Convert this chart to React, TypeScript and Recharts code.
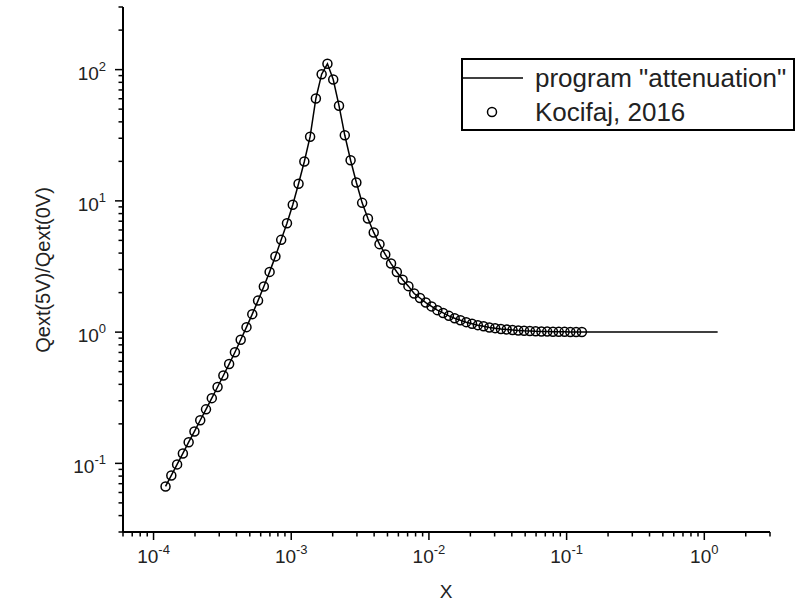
import { ComposedChart, Line, Scatter, XAxis, YAxis } from "recharts";

// Kocifaj, 2016 points
const kocX = [
  1.222e-4, 1.346e-4, 1.483e-4, 1.633e-4, 1.799e-4, 1.982e-4, 2.183e-4, 2.404e-4, 2.649e-4, 2.917e-4,
  3.214e-4, 3.54e-4, 3.899e-4, 4.295e-4, 4.732e-4, 5.212e-4, 5.741e-4, 6.324e-4, 6.966e-4, 7.674e-4,
  8.453e-4, 9.311e-4, 1.026e-3, 1.13e-3, 1.245e-3, 1.371e-3, 1.51e-3, 1.663e-3, 1.832e-3, 2.018e-3,
  2.223e-3, 2.449e-3, 2.698e-3, 2.972e-3, 3.273e-3, 3.606e-3, 3.972e-3, 4.375e-3, 4.819e-3, 5.309e-3,
  5.848e-3, 6.442e-3, 7.096e-3, 7.816e-3, 8.61e-3, 9.484e-3, 1.045e-2, 1.151e-2, 1.268e-2, 1.396e-2,
  1.538e-2, 1.694e-2, 1.866e-2, 2.056e-2, 2.265e-2, 2.495e-2, 2.748e-2, 3.027e-2, 3.334e-2, 3.673e-2,
  4.046e-2, 4.457e-2, 4.909e-2, 5.408e-2, 5.957e-2, 6.561e-2, 7.228e-2, 7.962e-2, 8.77e-2, 9.661e-2,
  0.1064, 0.1172, 0.1291,
];
const kocY = [
  0.0667, 0.0809, 0.0982, 0.119, 0.145, 0.175, 0.213, 0.258, 0.314, 0.382,
  0.467, 0.571, 0.703, 0.875, 1.091, 1.371, 1.738, 2.223, 2.877, 3.776,
  5.047, 6.761, 9.333, 13.49, 19.95, 30.83, 60.26, 92.3, 110.7, 84.1,
  53.1, 31.6, 20.4, 13.8, 9.66, 7.33, 5.75, 4.68, 3.91, 3.33,
  2.87, 2.51, 2.24, 1.97, 1.82, 1.68, 1.57, 1.47, 1.4, 1.33,
  1.276, 1.23, 1.191, 1.159, 1.13, 1.107, 1.086, 1.072, 1.057, 1.047,
  1.038, 1.03, 1.023, 1.019, 1.014, 1.012, 1.009, 1.007, 1.005, 1.005,
  1.002, 1.002, 1.002,
];

// program "attenuation" continues past the last measured point
const tailX = [0.15, 0.2, 0.3, 0.45, 0.7, 1.0, 1.25];
const tailY = [1.001, 1.001, 1.0, 1.0, 1.0, 1.0, 1.0];

const MULTS = [1, 2, 3, 4, 5, 6, 7, 8, 9];
const X_DECADES = [1e-5, 1e-4, 1e-3, 1e-2, 1e-1, 1];
const Y_DECADES = [0.01, 0.1, 1, 10, 100];
const X_DOMAIN = [6e-5, 3];
const Y_DOMAIN = [0.03, 300];

const FONT = "'Liberation Sans', Arial, sans-serif";
const W = 797;
const H = 606;

function buildTicks(decades: number[], lo: number, hi: number) {
  return decades
    .flatMap((d) => MULTS.map((m) => +(m * d).toPrecision(3)))
    .filter((v) => v >= lo * 0.999 && v <= hi * 1.001);
}
const xTicks = buildTicks(X_DECADES, X_DOMAIN[0], X_DOMAIN[1]);
const yTicks = buildTicks(Y_DECADES, Y_DOMAIN[0], Y_DOMAIN[1]);

const isMajor = (v: number) => Math.abs(Math.log10(v) - Math.round(Math.log10(v))) < 1e-6;
const expOf = (v: number) => Math.round(Math.log10(v));

function XTick(props: any) {
  const { x, y, payload } = props;
  const major = isMajor(payload.value);
  return (
    <g>
      <line x1={x} x2={x} y1={y} y2={y + (major ? 8 : 4.5)} stroke="#000" strokeWidth={1.5} />
      {major && (
        <text x={x} y={y + 31} textAnchor="middle" fontSize={19} fill="#222" fontFamily={FONT}>
          10<tspan dy={-9} fontSize={13}>{expOf(payload.value)}</tspan>
        </text>
      )}
    </g>
  );
}

function YTick(props: any) {
  const { x, y, payload } = props;
  const major = isMajor(payload.value);
  return (
    <g>
      <line x1={x} x2={x - (major ? 8 : 4.5)} y1={y} y2={y} stroke="#000" strokeWidth={1.5} />
      {major && (
        <text x={x - 17} y={y + 10} textAnchor="end" fontSize={19} fill="#222" fontFamily={FONT}>
          10<tspan dy={-9} fontSize={13}>{expOf(payload.value)}</tspan>
        </text>
      )}
    </g>
  );
}

export default function App() {
  const kocData = kocX.map((x, i) => ({ x, y: kocY[i] }));
  const allX = [...kocX, ...tailX];
  const allY = [...kocY, ...tailY];
  const lineData = allX.map((x, i) => ({ x, y: allY[i] }));

  return (
    <div style={{ position: "absolute", left: 0, top: 0, width: W, height: H, background: "#fff", fontFamily: FONT }}>
      <ComposedChart width={W} height={H} margin={{ top: 7, right: 27, bottom: 44, left: 63 }}>
        <XAxis
          type="number"
          dataKey="x"
          scale="log"
          domain={X_DOMAIN}
          allowDataOverflow
          ticks={xTicks}
          interval={0}
          tick={(p: any) => <XTick {...p} />}
          tickLine={false}
          tickSize={0}
          tickMargin={0}
          height={30}
          axisLine={{ stroke: "#000", strokeWidth: 2 }}
          label={{
            content: () => (
              <text x={446} y={598} textAnchor="middle" fontSize={19} fill="#222" fontFamily={FONT}>
                X
              </text>
            ),
          }}
        />
        <YAxis
          type="number"
          dataKey="y"
          scale="log"
          domain={Y_DOMAIN}
          allowDataOverflow
          ticks={yTicks}
          interval={0}
          tick={(p: any) => <YTick {...p} />}
          tickLine={false}
          tickSize={0}
          tickMargin={0}
          width={60}
          axisLine={{ stroke: "#000", strokeWidth: 2 }}
          label={{
            content: () => (
              <text
                x={50}
                y={270}
                transform="rotate(-90, 50, 270)"
                textAnchor="middle"
                fontSize={20}
                fill="#222"
                fontFamily={FONT}
              >
                Qext(5V)/Qext(0V)
              </text>
            ),
          }}
        />
        <Line
          data={lineData}
          dataKey="y"
          type="linear"
          stroke="#000"
          strokeWidth={1.5}
          dot={false}
          isAnimationActive={false}
        />
        <Scatter
          data={kocData}
          dataKey="y"
          isAnimationActive={false}
          shape={(p: any) => <circle cx={p.cx} cy={p.cy} r={4.5} fill="none" stroke="#000" strokeWidth={1.5} />}
        />
      </ComposedChart>

      <div
        style={{
          position: "absolute",
          left: 461,
          top: 58,
          width: 334,
          height: 73,
          border: "2px solid #000",
          boxSizing: "border-box",
          background: "#fff",
        }}
      >
        <svg width={330} height={69} style={{ display: "block" }}>
          <line x1={0} x2={60} y1={18} y2={18} stroke="#000" strokeWidth={1.5} />
          <text x={72} y={27} fontSize={26} fill="#222" fontFamily={FONT}>
            program "attenuation"
          </text>
          <circle cx={29} cy={52} r={4.5} fill="none" stroke="#000" strokeWidth={1.5} />
          <text x={72} y={61} fontSize={26} fill="#222" fontFamily={FONT}>
            Kocifaj, 2016
          </text>
        </svg>
      </div>
    </div>
  );
}
